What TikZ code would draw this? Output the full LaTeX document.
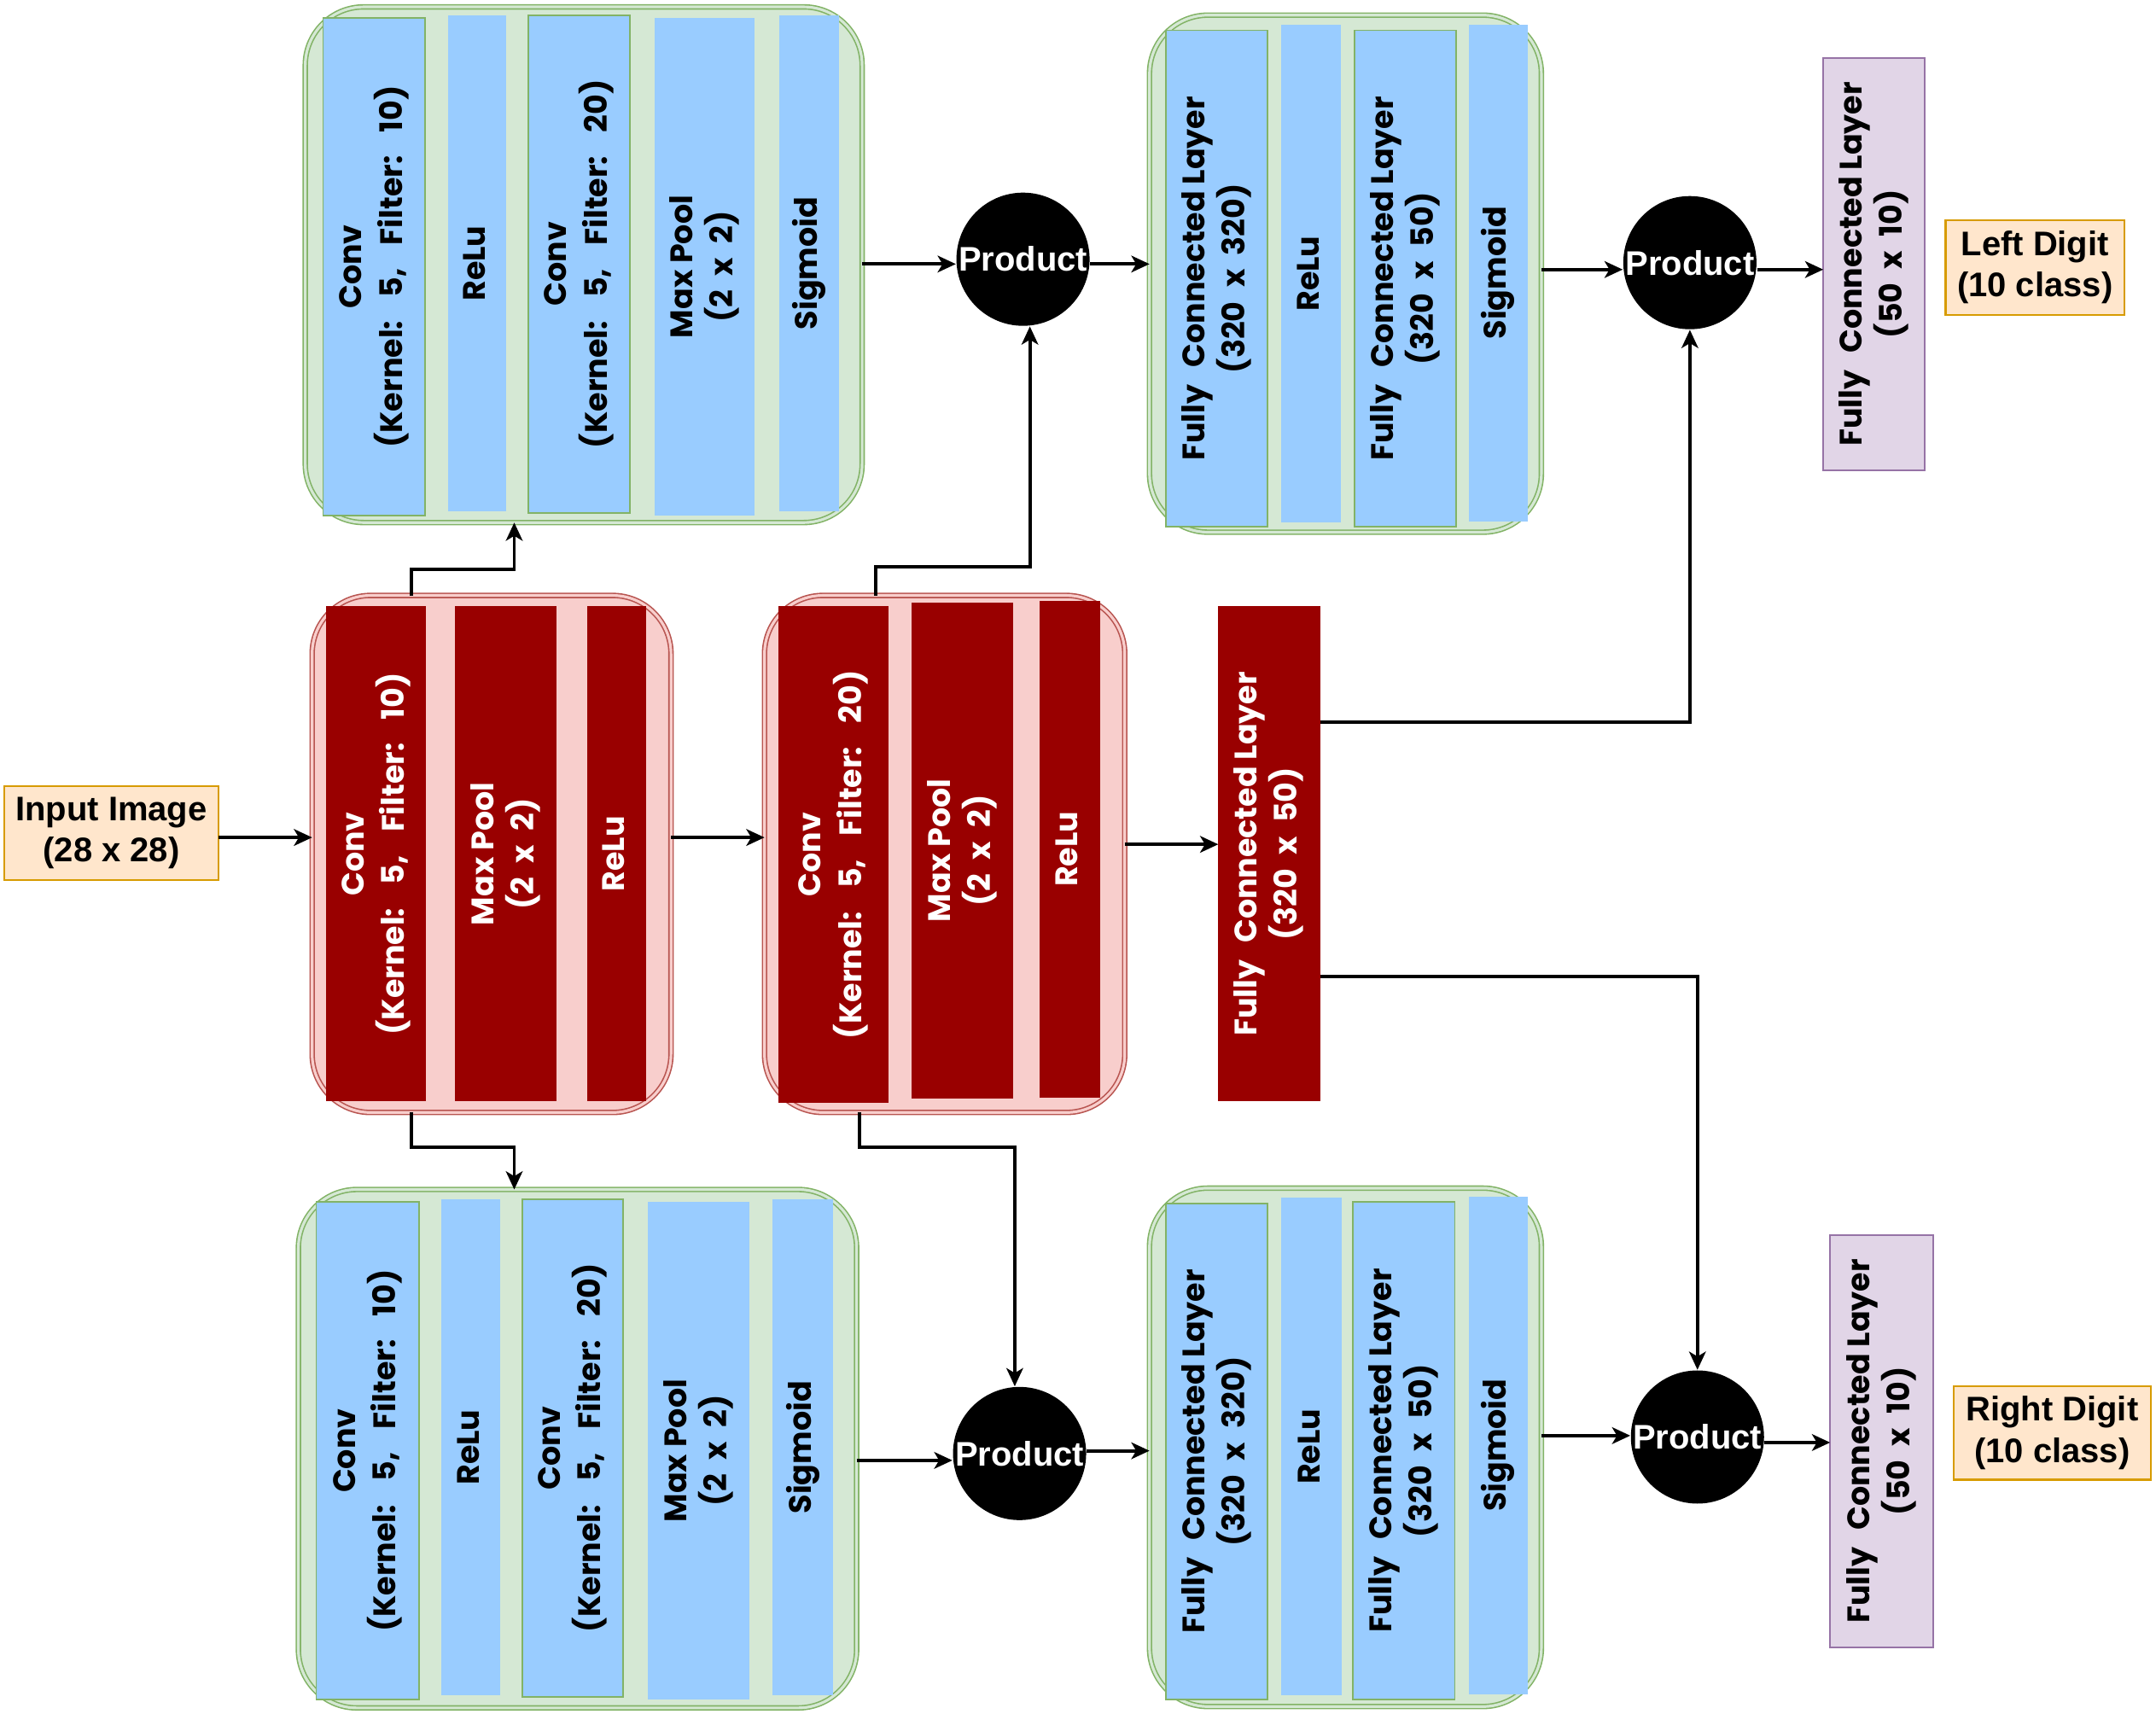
\documentclass[tikz,border=0pt]{standalone}
\usepackage{fontspec}
\usepackage{graphicx}
\setmainfont{Liberation Sans}
\newfontfamily\comic{Poppins}
\usetikzlibrary{arrows.meta}
\definecolor{cblue}{HTML}{99CCFF}
\definecolor{gfill}{HTML}{D5E8D4}
\definecolor{gline}{HTML}{82B366}
\definecolor{pfill}{HTML}{F8CECC}
\definecolor{pline}{HTML}{B85450}
\definecolor{dred}{HTML}{990000}
\definecolor{vfill}{HTML}{E1D5E7}
\definecolor{vline}{HTML}{9673A6}
\definecolor{ofill}{HTML}{FFE6CC}
\definecolor{oline}{HTML}{D79B00}
\newcommand\blk[7]{\node[#2, minimum width={(#5-#3)*0.016cm}, minimum height={(#6-#4)*0.016cm}] (#1) at ({(#3+#5)/2},{(#4+#6)/2}) {#7};}
\newcommand\vt[1]{\rotatebox{90}{\begin{tabular}{@{}c@{}}#1\end{tabular}}}
\newcommand\wsp{\hspace{0.55em}}
\newcommand\ksp{\hspace{0.75em}}
\newcommand\xsp{\hspace{0.45em}}
\newcommand\kernlbl[1]{(Kernel:\ksp 5,\ksp Filter:\ksp #1)}
\newcommand\pool{Max Pool\\(2\xsp x\xsp 2)}
\tikzset{
  base/.style={rectangle, inner sep=0pt, outer sep=0pt},
  contg/.style={base, rounded corners=0.68cm, fill=gfill, draw=gline, line width=0.45pt, double=gfill, double distance=0.9pt},
  contr/.style={base, rounded corners=0.68cm, fill=pfill, draw=pline, line width=0.45pt, double=pfill, double distance=0.9pt},
  lay/.style={base, font=\comic\bfseries\fontsize{10.3}{13.2}\selectfont},
  bluebd/.style={lay, fill=cblue, draw=gline, line width=0.5pt},
  bluenb/.style={lay, fill=cblue},
  redb/.style={lay, fill=dred, text=white},
  purp/.style={lay, fill=vfill, draw=vline, line width=0.6pt},
  lab/.style={base, fill=ofill, draw=oline, line width=0.6pt, align=center, font=\bfseries\fontsize{11.3}{13.6}\selectfont},
  prod/.style={circle, fill=black, inner sep=0pt, minimum size=1.55cm, text=white, font=\bfseries\fontsize{11.3}{13.6}\selectfont},
  arr/.style={line width=1.1pt, -{Stealth[length=6pt,width=5.5pt,inset=1.6pt]}}
}
\begin{document}
\begin{tikzpicture}[x=0.016cm,y=-0.016cm]
\useasboundingbox (0,0) rectangle (1568,1246);
% containers
\blk{TL}{contg}{222}{5}{627}{380}{}
\blk{TR}{contg}{836}{11}{1121}{387}{}
\blk{BL}{contg}{217}{865}{623}{1242}{}
\blk{BR}{contg}{836}{864}{1121}{1241}{}
\blk{R1}{contr}{227}{433}{488}{809}{}
\blk{R2}{contr}{556}{433}{818}{809}{}
% top-left bars
\blk{tl1}{bluebd}{235}{13}{309}{375}{\vt{Conv\\\kernlbl{10}}}
\blk{tl2}{bluenb}{326}{11}{368}{372}{\vt{ReLu}}
\blk{tl3}{bluebd}{384}{11}{458}{373}{\vt{Conv\\\kernlbl{20}}}
\blk{tl4}{bluenb}{476}{13}{549}{375}{\vt{\pool}}
\blk{tl5}{bluenb}{567}{11}{610}{372}{\vt{Sigmoid}}
% bottom-left bars
\blk{bl1}{bluebd}{230}{874}{305}{1236}{\vt{Conv\\\kernlbl{10}}}
\blk{bl2}{bluenb}{321}{872}{364}{1233}{\vt{ReLu}}
\blk{bl3}{bluebd}{380}{872}{453}{1234}{\vt{Conv\\\kernlbl{20}}}
\blk{bl4}{bluenb}{471}{874}{545}{1236}{\vt{\pool}}
\blk{bl5}{bluenb}{562}{872}{606}{1233}{\vt{Sigmoid}}
% top-right bars
\blk{tr1}{bluebd}{848}{22}{922}{383}{\vt{Fully\wsp Connected Layer\\(320\xsp x\xsp 320)}}
\blk{tr2}{bluenb}{932}{18}{975}{380}{\vt{ReLu}}
\blk{tr3}{bluebd}{985}{22}{1059}{383}{\vt{Fully\wsp Connected Layer\\(320\xsp x\xsp 50)}}
\blk{tr4}{bluenb}{1068}{18}{1111}{379}{\vt{Sigmoid}}
% bottom-right bars
\blk{br1}{bluebd}{848}{875}{922}{1236}{\vt{Fully\wsp Connected Layer\\(320\xsp x\xsp 320)}}
\blk{br2}{bluenb}{932}{871}{976}{1233}{\vt{ReLu}}
\blk{br3}{bluebd}{984}{874}{1058}{1236}{\vt{Fully\wsp Connected Layer\\(320\xsp x\xsp 50)}}
\blk{br4}{bluenb}{1068}{870}{1111}{1232}{\vt{Sigmoid}}
% middle red bars
\blk{r11}{redb}{237}{441}{310}{801}{\vt{Conv\\\kernlbl{10}}}
\blk{r12}{redb}{331}{441}{405}{801}{\vt{\pool}}
\blk{r13}{redb}{427}{441}{470}{801}{\vt{ReLu}}
\blk{r21}{redb}{566}{441}{646}{802}{\vt{Conv\\\kernlbl{20}}}
\blk{r22}{redb}{663}{438}{737}{799}{\vt{\pool}}
\blk{r23}{redb}{756}{437}{800}{798}{\vt{ReLu}}
\blk{FC}{redb}{886}{441}{960}{801}{\vt{Fully\wsp Connected Layer\\(320\xsp x\xsp 50)}}
% outputs and labels
\blk{O1}{purp}{1326}{42}{1400}{342}{\vt{Fully\wsp Connected Layer\\(50\xsp x\xsp 10)}}
\blk{O2}{purp}{1331}{898}{1406}{1198}{\vt{Fully\wsp Connected Layer\\(50\xsp x\xsp 10)}}
\blk{inp}{lab}{3}{571.5}{159}{640}{Input Image\\(28 x 28)}
\blk{L1}{lab}{1415}{160}{1545}{229}{Left Digit\\(10 class)}
\blk{L2}{lab}{1421}{1008}{1564}{1076}{Right Digit\\(10 class)}
% product nodes
\node[prod] (P1) at (744,188.5) {Product};
\node[prod] (P2) at (1229,191) {Product};
\node[prod] (P3) at (741.5,1057) {Product};
\node[prod] (P4) at (1234.5,1045) {Product};
% connectors
\draw[arr] (inp.east |- 0,609) -- (R1.west |- 0,609);
\draw[arr] (R1.east |- 0,609) -- (R2.west |- 0,609);
\draw[arr] (R2.east |- 0,614) -- (FC.west |- 0,614);
\draw[arr] (R1.north -| 299,0) |- (374,414) -- (TL.south -| 374,0);
\draw[arr] (R1.south -| 299,0) |- (374,834) -- (BL.north -| 374,0);
\draw[arr] (R2.north -| 637,0) |- (749,412) -- (P1.south -| 749,0);
\draw[arr] (R2.south -| 625,0) |- (738,834) -- (P3.north -| 738,0);
\draw[arr] (TL.east |- 0,192) -- (P1.west |- 0,192);
\draw[arr] (P1.east |- 0,192) -- (TR.west |- 0,192);
\draw[arr] (TR.east |- 0,196) -- (P2.west |- 0,196);
\draw[arr] (P2.east |- 0,196) -- (O1.west |- 0,196);
\draw[arr] (FC.east |- 0,525) -| (P2.south);
\draw[arr] (FC.east |- 0,710) -| (P4.north);
\draw[arr] (BL.east |- 0,1062) -- (P3.west |- 0,1062);
\draw[arr] (P3.east |- 0,1055) -- (BR.west |- 0,1055);
\draw[arr] (BR.east |- 0,1044) -- (P4.west |- 0,1044);
\draw[arr] (P4.east |- 0,1049) -- (O2.west |- 0,1049);
\end{tikzpicture}
\end{document}
